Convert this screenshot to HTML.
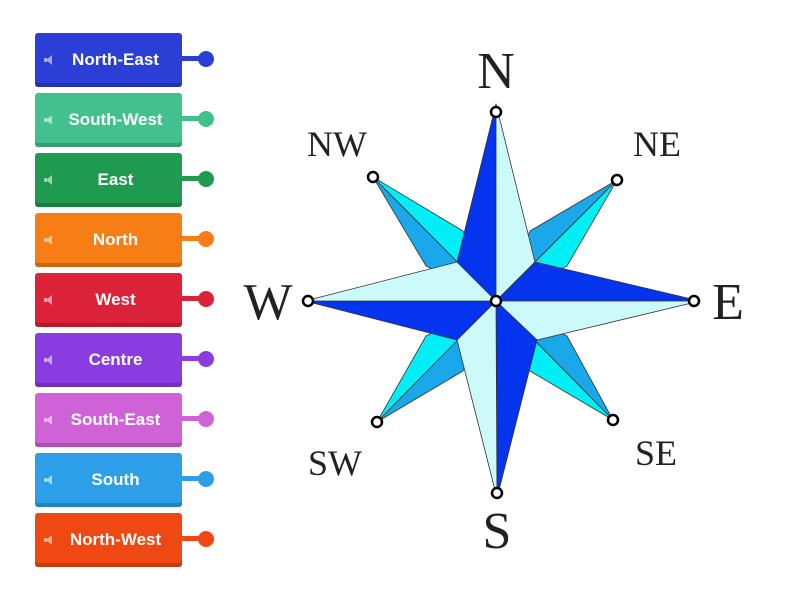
<!DOCTYPE html>
<html><head><meta charset="utf-8"><style>
html,body{margin:0;padding:0;background:#fff;width:800px;height:600px;overflow:hidden}
.b{position:absolute;left:35px;width:147px;height:54px;border-radius:3px;color:#fff;font:bold 17px "Liberation Sans",sans-serif;display:flex;align-items:center;justify-content:center;box-shadow:inset 0 -4px 0 rgba(0,0,0,0.18)}
.b span.t{padding-left:14px}
.b i{position:absolute;left:11px;top:50%;margin-top:-5px;width:0;height:0;border-top:5px solid transparent;border-bottom:5px solid transparent;border-right:6px solid rgba(255,255,255,0.55)}
.b b{position:absolute;left:9px;top:50%;margin-top:-2px;width:3px;height:4px;background:rgba(255,255,255,0.55)}
.c{position:absolute;left:182px;height:5px;width:22px}
.d{position:absolute;left:198px;width:16px;height:16px;border-radius:50%}
</style></head><body>
<div id="L"></div>
<script>
var items=[["North-East","#2b3ed6"],["South-West","#43c18c"],["East","#1f9a50"],["North","#f77e14"],["West","#dc2238"],["Centre","#8a3ce0"],["South-East","#d062d8"],["South","#2c9fe8"],["North-West","#ef4812"]];
var h="";
items.forEach(function(it,i){var y=33+i*60;
h+='<div class="b" style="top:'+y+'px;background:'+it[1]+'"><b></b><i></i><span class="t">'+it[0]+'</span></div>';
h+='<div class="c" style="top:'+(y+23)+'px;background:'+it[1]+'"></div>';
h+='<div class="d" style="top:'+(y+18)+'px;background:'+it[1]+'"></div>';});
document.getElementById("L").innerHTML=h;
</script>
<svg width="800" height="600" style="position:absolute;left:0;top:0" xmlns="http://www.w3.org/2000/svg">
<g stroke="#333" stroke-width="0.8" stroke-linejoin="round">
<polygon points="373,177 496,301 426,266" fill="#1aa8ea"/>
<polygon points="373,177 496,301 463,231" fill="#00eef6"/>
<polygon points="617,180 496,301 530,231" fill="#1aa8ea"/>
<polygon points="617,180 496,301 567,266" fill="#00eef6"/>
<polygon points="613,420 496,301 567,336" fill="#1aa8ea"/>
<polygon points="613,420 496,301 530,371" fill="#00eef6"/>
<polygon points="377,422 496,301 463,371" fill="#1aa8ea"/>
<polygon points="377,422 496,301 426,336" fill="#00eef6"/>
<polygon points="496,104 496,301 457,262" fill="#0534ee"/>
<polygon points="496,104 496,301 535,262" fill="#ccfafa"/>
<polygon points="700,301 496,301 535,262" fill="#0534ee"/>
<polygon points="700,301 496,301 537,340" fill="#ccfafa"/>
<polygon points="497,498 496,301 537,340" fill="#0534ee"/>
<polygon points="497,498 496,301 457,340" fill="#ccfafa"/>
<polygon points="305,301 496,301 457,340" fill="#0534ee"/>
<polygon points="305,301 496,301 457,262" fill="#ccfafa"/>
</g>
<g fill="#fff" stroke="#000" stroke-width="2.5">
<circle cx="496" cy="112" r="5"/><circle cx="694" cy="301" r="5"/><circle cx="497" cy="493" r="5"/><circle cx="308" cy="301" r="5"/>
<circle cx="496" cy="301" r="5"/><circle cx="373" cy="177" r="5"/><circle cx="617" cy="180" r="5"/><circle cx="613" cy="420" r="5"/><circle cx="377" cy="422" r="5"/>
</g>
<g font-family="Liberation Serif,serif" fill="#222" text-anchor="middle">
<text x="496" y="88" font-size="52">N</text>
<text x="728" y="319" font-size="52">E</text>
<text x="497" y="548" font-size="52">S</text>
<text x="268" y="319" font-size="52">W</text>
<text x="337" y="156" font-size="36">NW</text>
<text x="657" y="156" font-size="36">NE</text>
<text x="335" y="475" font-size="36">SW</text>
<text x="656" y="465" font-size="36">SE</text>
</g>
</svg>
</body></html>
